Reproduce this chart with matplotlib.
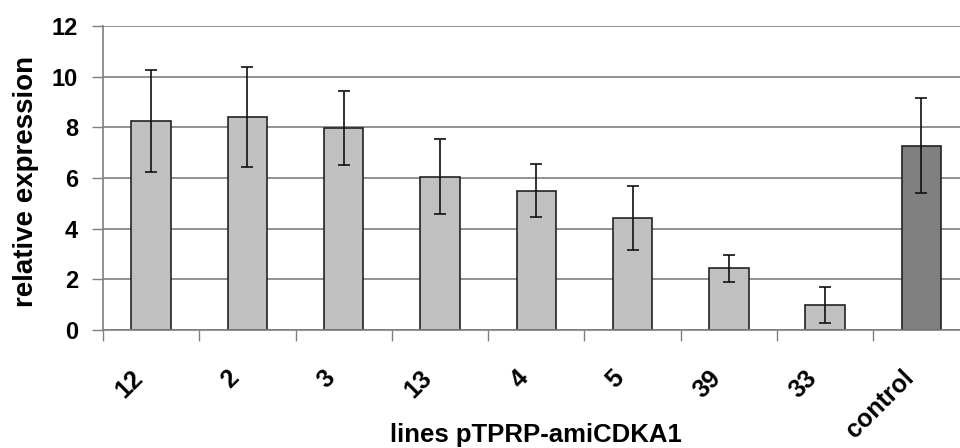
import matplotlib

matplotlib.use("Agg")
import matplotlib.pyplot as plt  # noqa: E402
import matplotlib.transforms as mtransforms  # noqa: E402
import numpy as np  # noqa: E402

# values
lines = ["12", "2", "3", "13", "4", "5", "39", "33", "control"]
means = [8.25, 8.4, 7.97, 6.05, 5.5, 4.42, 2.43, 0.98, 7.28]
errors = [2.0, 1.98, 1.47, 1.49, 1.04, 1.27, 0.52, 0.7, 1.88]
bar_colors = ["#c0c0c0"] * 8 + ["#808080"]

plt.rcParams["font.family"] = ["Liberation Sans", "DejaVu Sans"]
plt.rcParams["font.weight"] = "bold"

fig = plt.figure(figsize=(9.6, 4.48), dpi=100)
ax = fig.add_axes([103 / 960, 1 - 330 / 448, 1 - 103 / 960, (330 - 26) / 448])

x = np.arange(len(lines))
ax.set_axisbelow(True)
ax.yaxis.grid(True, color="#7f7f7f", linewidth=1.2)
ax.bar(x, means, width=0.41, color=bar_colors, edgecolor="#222222", linewidth=1.2, zorder=2)
ax.errorbar(x, means, yerr=errors, fmt="none", ecolor="#111111", elinewidth=1.2,
            capsize=4.5, capthick=1.2, zorder=3)

ax.set_xlim(-0.5, 8.4)
ax.set_ylim(0, 12)
ax.set_yticks(range(0, 13, 2))
ax.set_xticks(np.arange(-0.5, 8.5, 1.0), minor=False)
ax.set_xticklabels([])
ax.set_xticks(x, minor=True)
ax.set_xticklabels(lines, minor=True, rotation=45, ha="right", va="center",
                   rotation_mode="anchor", fontsize=18)
ax.tick_params(axis="x", which="major", length=8, width=1.0, color="#7f7f7f", direction="out")
ax.tick_params(axis="x", which="minor", length=0, pad=32)
ax.tick_params(axis="y", length=8, width=1.0, color="#7f7f7f", labelsize=17, pad=10)

offset = mtransforms.ScaledTranslation(-12 / 100, 0, fig.dpi_scale_trans)
for lbl in ax.get_xticklabels(minor=True):
    lbl.set_transform(lbl.get_transform() + offset)

for side in ["top", "right"]:
    ax.spines[side].set_visible(False)
for side in ["left", "bottom"]:
    ax.spines[side].set_color("#7f7f7f")
    ax.spines[side].set_linewidth(1.2)

ax.set_ylabel("relative expression", fontsize=20, fontweight="bold")
ax.yaxis.set_label_coords(-0.075, 0.49)
ax.set_xlabel("lines pTPRP-amiCDKA1", fontsize=18.5, fontweight="bold")
ax.xaxis.set_label_coords((536 - 103) / 857, -(442 - 330) / 304)
ax.xaxis.label.set_va("baseline")

fig.savefig("out.png", dpi=100)
